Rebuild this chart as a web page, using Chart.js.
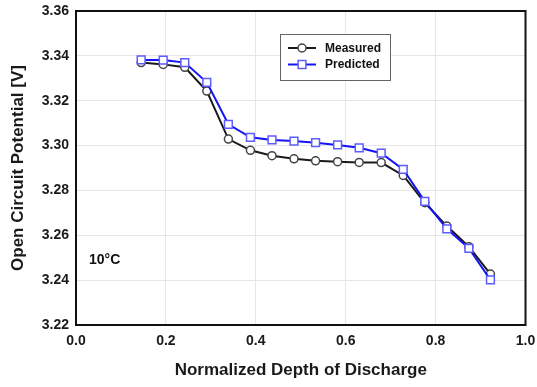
<!DOCTYPE html>
<html>
<head>
<meta charset="utf-8">
<title>Open Circuit Potential vs Depth of Discharge</title>
<script src="https://cdn.jsdelivr.net/npm/chart.js@4/dist/chart.umd.min.js"></script>
<style>
  html, body { margin: 0; padding: 0; background: #ffffff; }
  #wrap { position: relative; width: 537px; height: 387px; }
</style>
</head>
<body>
<div id="wrap"><canvas id="ocp"></canvas></div>
<script>
// Normalized depth of discharge for each rest point
const dod = [0.145, 0.194, 0.242, 0.291, 0.339, 0.388, 0.436, 0.485, 0.533,
             0.582, 0.630, 0.679, 0.728, 0.776, 0.825, 0.874, 0.922];
// Open circuit potential [V]
const measured = [3.3370, 3.3362, 3.3349, 3.3243, 3.3029, 3.2979, 3.2955, 3.2941, 3.2932,
                  3.2928, 3.2925, 3.2924, 3.2867, 3.2745, 3.2641, 3.2549, 3.2427];
const predicted = [3.3382, 3.3381, 3.3370, 3.3282, 3.3095, 3.3037, 3.3025, 3.3020, 3.3013,
                   3.3003, 3.2990, 3.2966, 3.2894, 3.2751, 3.2629, 3.2542, 3.2401];
const seriesNames = ['Measured', 'Predicted'];
const xTicks = [0.0, 0.2, 0.4, 0.6, 0.8, 1.0];
const yTicks = [3.22, 3.24, 3.26, 3.28, 3.30, 3.32, 3.34, 3.36];
const temperatureLabel = '10°C';

const FONT = "'Liberation Sans', Arial, Helvetica, sans-serif";

function pairs(xs, ys) {
  return xs.map((x, i) => ({ x: x, y: ys[i] }));
}

// Box around the whole plot area
const framePlugin = {
  id: 'frame',
  afterDatasetsDraw(chart) {
    const { ctx, chartArea: a } = chart;
    ctx.save();
    ctx.strokeStyle = '#111111';
    ctx.lineWidth = 2;
    ctx.strokeRect(a.left, a.top, a.right - a.left, a.bottom - a.top);
    ctx.restore();
  }
};

// Boxed legend inside the plot plus the temperature note
const notePlugin = {
  id: 'notes',
  afterDraw(chart) {
    const { ctx, chartArea: a } = chart;
    ctx.save();
    // legend box
    const bx = a.left + 204, by = a.top + 23, bw = 110, bh = 46;
    ctx.fillStyle = '#ffffff';
    ctx.fillRect(bx, by, bw, bh);
    ctx.strokeStyle = '#666666';
    ctx.lineWidth = 1;
    ctx.strokeRect(bx + 0.5, by + 0.5, bw, bh);
    chart.data.datasets.forEach((ds, i) => {
      const cy = by + 14 + i * 16.5;
      const x0 = bx + 8, x1 = bx + 36, cx = (x0 + x1) / 2;
      ctx.strokeStyle = ds.borderColor;
      ctx.lineWidth = ds.borderWidth;
      ctx.beginPath();
      ctx.moveTo(x0, cy);
      ctx.lineTo(x1, cy);
      ctx.stroke();
      ctx.fillStyle = ds.pointBackgroundColor;
      ctx.strokeStyle = ds.pointBorderColor;
      ctx.lineWidth = ds.pointBorderWidth;
      Chart.helpers.drawPoint(ctx, {
        pointStyle: ds.pointStyle,
        radius: ds.pointRadius,
        rotation: 0,
        borderWidth: ds.pointBorderWidth
      }, cx, cy);
      ctx.fillStyle = '#111111';
      ctx.font = 'bold 12px ' + FONT;
      ctx.textAlign = 'left';
      ctx.textBaseline = 'middle';
      ctx.fillText(ds.label, bx + 45, cy + 0.5);
    });
    // temperature note
    ctx.fillStyle = '#111111';
    ctx.font = 'bold 14px ' + FONT;
    ctx.textAlign = 'left';
    ctx.textBaseline = 'middle';
    ctx.fillText(temperatureLabel, a.left + 13, a.top + 249);
    ctx.restore();
  }
};

const tickFont = { family: FONT, size: 14, weight: 'bold' };
const titleFont = { family: FONT, size: 17, weight: 'bold' };

new Chart(document.getElementById('ocp'), {
  type: 'scatter',
  data: {
    datasets: [
      {
        label: seriesNames[0],
        data: pairs(dod, measured),
        showLine: true,
        borderColor: '#1a1a1a',
        borderWidth: 2,
        pointStyle: 'circle',
        pointRadius: 4,
        pointBackgroundColor: '#ffffff',
        pointBorderColor: '#444444',
        pointBorderWidth: 1.5,
        order: 2
      },
      {
        label: seriesNames[1],
        data: pairs(dod, predicted),
        showLine: true,
        borderColor: '#1414f5',
        borderWidth: 2,
        pointStyle: 'rect',
        pointRadius: 5.5,
        pointBackgroundColor: '#ffffff',
        pointBorderColor: '#5c5cff',
        pointBorderWidth: 1.5,
        order: 1
      }
    ]
  },
  options: {
    responsive: true,
    maintainAspectRatio: false,
    animation: false,
    layout: { padding: { left: 0, right: 11.5, top: 11, bottom: 0 } },
    plugins: {
      legend: { display: false },
      tooltip: { enabled: false }
    },
    scales: {
      x: {
        type: 'linear',
        min: xTicks[0],
        max: xTicks[xTicks.length - 1],
        afterBuildTicks(scale) { scale.ticks = xTicks.map(v => ({ value: v })); },
        afterFit(scale) {
          scale.height = 62;
          scale.paddingLeft = 0;
          scale.paddingRight = 0;
        },
        ticks: {
          font: tickFont,
          color: '#1a1a1a',
          padding: 8,
          maxRotation: 0,
          callback: v => Number(v).toFixed(1)
        },
        grid: { color: '#e6e6e6', lineWidth: 1, drawTicks: false },
        border: { display: false },
        title: {
          display: true,
          text: 'Normalized Depth of Discharge',
          font: titleFont,
          color: '#1a1a1a',
          padding: { top: 0, bottom: 6 }
        }
      },
      y: {
        type: 'linear',
        min: yTicks[0],
        max: yTicks[yTicks.length - 1],
        afterBuildTicks(scale) { scale.ticks = yTicks.map(v => ({ value: v })); },
        afterFit(scale) {
          scale.width = 76;
          scale.paddingTop = 0;
          scale.paddingBottom = 0;
        },
        ticks: {
          font: tickFont,
          color: '#1a1a1a',
          padding: 7,
          callback: v => Number(v).toFixed(2)
        },
        grid: { color: '#e6e6e6', lineWidth: 1, drawTicks: false },
        border: { display: false },
        title: {
          display: true,
          text: 'Open Circuit Potential [V]',
          font: titleFont,
          color: '#1a1a1a',
          padding: { top: 8, bottom: 0 }
        }
      }
    }
  },
  plugins: [framePlugin, notePlugin]
});
</script>
</body>
</html>
